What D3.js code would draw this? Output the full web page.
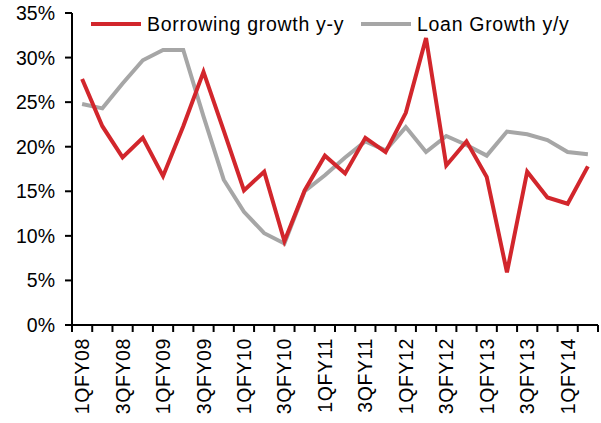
<!DOCTYPE html>
<html>
<head>
<meta charset="utf-8">
<script src="https://cdn.jsdelivr.net/npm/d3@7"></script>
<style>
    body { margin: 0; background: #fff; }
    text { font-family: "Liberation Sans", Arial, sans-serif; fill: #000; }
</style>
</head>
<body>
<div id="chart"></div>
<script>
// quarters, 1QFY08 .. 2QFY14
const quarters = [
    '1QFY08', '2QFY08', '3QFY08', '4QFY08',
    '1QFY09', '2QFY09', '3QFY09', '4QFY09',
    '1QFY10', '2QFY10', '3QFY10', '4QFY10',
    '1QFY11', '2QFY11', '3QFY11', '4QFY11',
    '1QFY12', '2QFY12', '3QFY12', '4QFY12',
    '1QFY13', '2QFY13', '3QFY13', '4QFY13',
    '1QFY14', '2QFY14'
];
const borrowingGrowth = [
    27.6, 22.3, 18.8, 21.0, 16.7, 22.3, 28.4, 21.8, 15.1, 17.2,
    9.4, 15.1, 19.0, 17.0, 21.0, 19.4, 23.8, 32.2, 17.9, 20.6,
    16.6, 5.9, 17.2, 14.3, 13.6, 17.8
];
const loanGrowth = [
    24.8, 24.3, 27.1, 29.7, 30.85, 30.85, 23.4, 16.3, 12.7, 10.3,
    9.15, 15.0, 16.8, 18.8, 20.6, 19.6, 22.2, 19.4, 21.2, 20.2,
    19.0, 21.7, 21.4, 20.75, 19.4, 19.15
];
const yTicks = [0, 5, 10, 15, 20, 25, 30, 35];
const seriesNames = ['Borrowing growth y-y', 'Loan Growth y/y'];

const width = 601, height = 423;
const margin = { top: 13, right: 3, bottom: 98, left: 72 };
const innerW = width - margin.left - margin.right;
const innerH = height - margin.top - margin.bottom;

const svg = d3.select('#chart').append('svg')
    .attr('width', width)
    .attr('height', height);

const g = svg.append('g')
    .attr('transform', `translate(${margin.left}, ${margin.top})`);

const x = d3.scaleBand().domain(quarters).range([0, innerW]);
const y = d3.scaleLinear().domain([0, 35]).range([innerH, 0]);

// y axis
g.append('line')
    .attr('x1', 0).attr('x2', 0)
    .attr('y1', 0).attr('y2', innerH)
    .attr('stroke', '#000').attr('stroke-width', 2);
g.selectAll('line.ytick').data(yTicks).enter().append('line')
    .attr('class', 'ytick')
    .attr('x1', -7).attr('x2', 0)
    .attr('y1', d => y(d)).attr('y2', d => y(d))
    .attr('stroke', '#000').attr('stroke-width', 2);
g.selectAll('text.ylab').data(yTicks).enter().append('text')
    .attr('class', 'ylab')
    .attr('x', -17)
    .attr('y', d => y(d))
    .attr('dy', '0.36em')
    .attr('text-anchor', 'end')
    .attr('font-size', 19.5)
    .text(d => d + '%');

// x axis (ticks at band edges)
const edges = quarters.map(q => x(q)).concat([innerW]);
g.append('line')
    .attr('x1', 0).attr('x2', innerW)
    .attr('y1', innerH).attr('y2', innerH)
    .attr('stroke', '#000').attr('stroke-width', 2);
g.selectAll('line.xtick').data(edges).enter().append('line')
    .attr('class', 'xtick')
    .attr('x1', d => d).attr('x2', d => d)
    .attr('y1', innerH).attr('y2', innerH + 7)
    .attr('stroke', '#000').attr('stroke-width', 2);
g.selectAll('text.xlab').data(quarters.filter((q, i) => i % 2 === 0)).enter().append('text')
    .attr('class', 'xlab')
    .attr('transform', d => `translate(${x(d) + x.bandwidth() / 2}, ${innerH + 13}) rotate(-90)`)
    .attr('dy', '0.36em')
    .attr('text-anchor', 'end')
    .attr('font-size', 19.5)
    .attr('letter-spacing', 0.6)
    .text(d => d);

// lines
const line = d3.line()
    .x((d, i) => x(quarters[i]) + x.bandwidth() / 2)
    .y(d => y(d));

g.append('path')
    .datum(loanGrowth)
    .attr('fill', 'none')
    .attr('stroke', '#a6a6a6')
    .attr('stroke-width', 4)
    .attr('stroke-linejoin', 'miter')
    .attr('d', line);

g.append('path')
    .datum(borrowingGrowth)
    .attr('fill', 'none')
    .attr('stroke', '#d2262c')
    .attr('stroke-width', 4)
    .attr('stroke-linejoin', 'miter')
    .attr('d', line);

// legend
const legend = svg.append('g');
const legendItems = [
    { name: seriesNames[0], color: '#d2262c', x: 91 },
    { name: seriesNames[1], color: '#a6a6a6', x: 361 }
];
legendItems.forEach(d => {
    legend.append('line')
        .attr('x1', d.x).attr('x2', d.x + 50)
        .attr('y1', 24).attr('y2', 24)
        .attr('stroke', d.color).attr('stroke-width', 4);
    legend.append('text')
        .attr('x', d.x + 56)
        .attr('y', 24)
        .attr('dy', '0.36em')
        .attr('font-size', 19.5)
        .attr('letter-spacing', 0.7)
        .text(d.name);
});
</script>
</body>
</html>
